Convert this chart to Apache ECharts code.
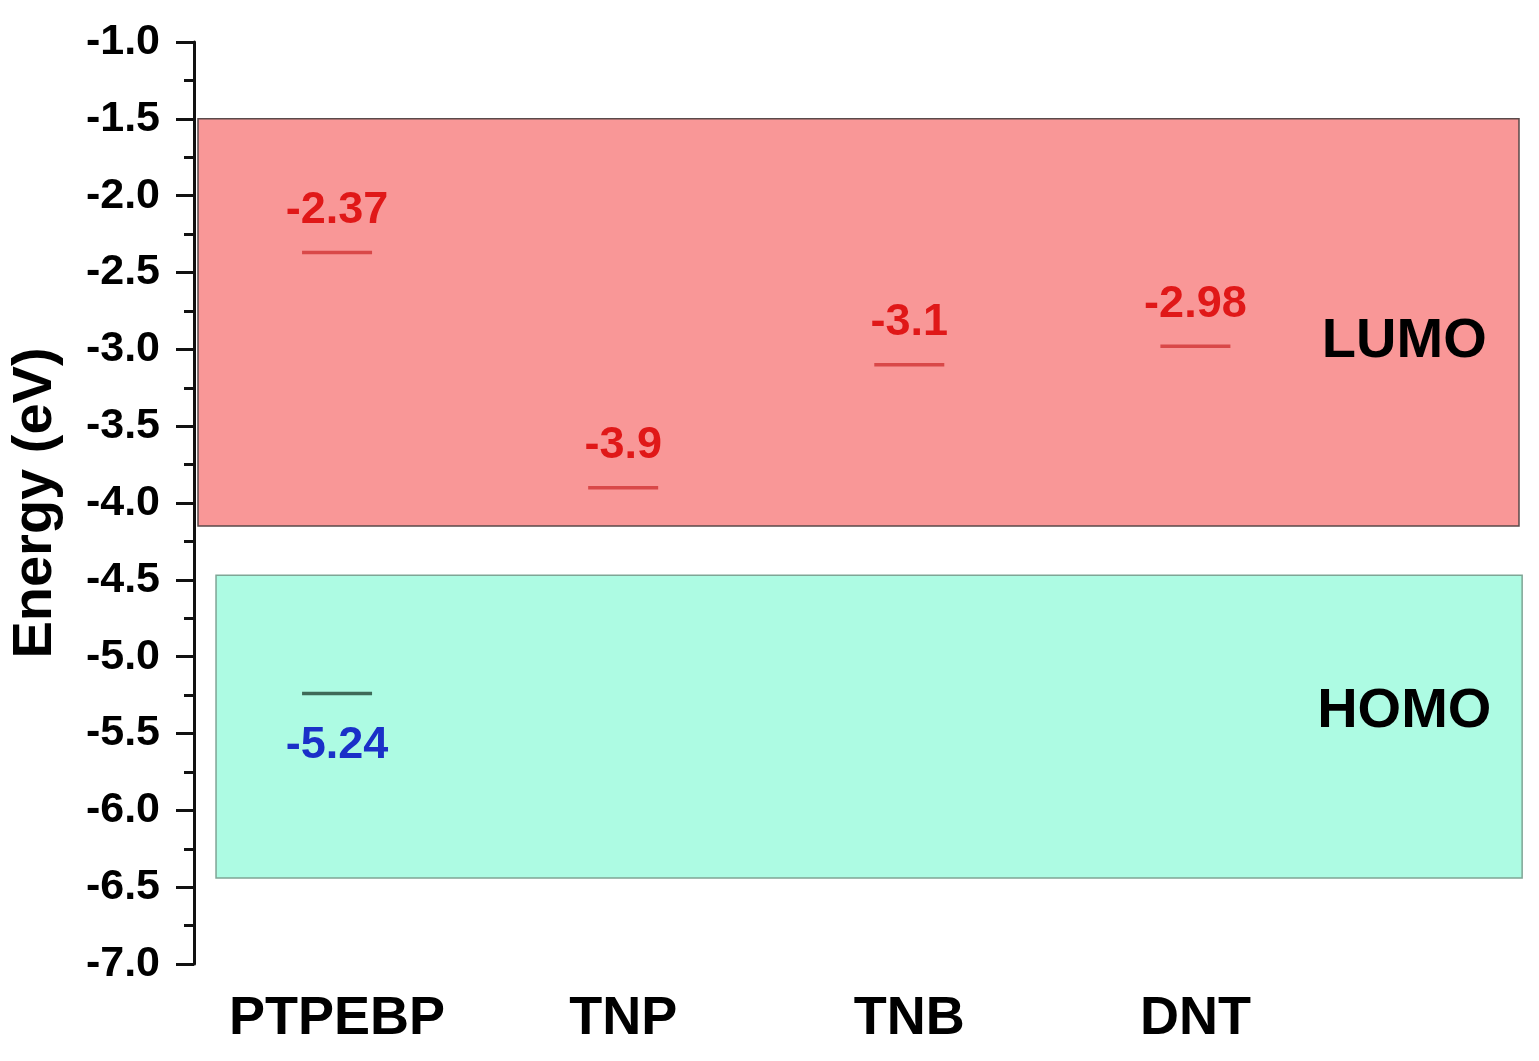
<!DOCTYPE html>
<html>
<head>
<meta charset="utf-8">
<script src="https://cdn.jsdelivr.net/npm/echarts@6/dist/echarts.min.js"></script>
<style>
html,body{margin:0;padding:0;background:#fff;}
#c{width:1539px;height:1061px;}
</style>
</head>
<body>
<div id="c"></div>
<script>
// ---- data ----
const categories = ['PTPEBP', 'TNP', 'TNB', 'DNT'];
const lumoValues = [-2.37, -3.9, -3.1, -2.98];
const homoValues = [-5.24, null, null, null];
const yTicks = [-7.0, -6.5, -6.0, -5.5, -5.0, -4.5, -4.0, -3.5, -3.0, -2.5, -2.0, -1.5, -1.0];
const lumoBand = [-1.5, -4.15];
const homoBand = [-4.47, -6.44];
const bandLabels = ['LUMO', 'HOMO'];
const bandLabelY = [-2.95, -5.36];

const FONT = '"Liberation Sans", Arial, sans-serif';
const chart = echarts.init(document.getElementById('c'));

const catX = categories.map((c, i) => i + 1);

function levelSeries(values, lineColor, textColor, above) {
  const data = [];
  values.forEach((v, i) => { if (v !== null) data.push([catX[i], v]); });
  return {
    type: 'custom',
    z: 5,
    data: data,
    renderItem: function (params, api) {
      const p = api.coord([api.value(0), api.value(1)]);
      const val = api.value(1);
      return {
        type: 'group',
        children: [
          { type: 'line', shape: { x1: p[0] - 35, y1: p[1], x2: p[0] + 35, y2: p[1] },
            style: { stroke: lineColor, lineWidth: 3.5 } },
          { type: 'text', x: p[0], y: above ? p[1] - 42 : p[1] + 52,
            style: { text: String(val), fill: textColor, font: 'bold 45px ' + FONT,
                     textAlign: 'center', textVerticalAlign: 'middle' } }
        ]
      };
    }
  };
}

const option = {
  backgroundColor: '#fff',
  animation: false,
  grid: { left: 193, top: 42, bottom: 97, right: 14, containLabel: false },
  xAxis: {
    type: 'value', min: 0.5, max: 5.152,
    axisLine: { show: false }, axisTick: { show: false }, splitLine: { show: false },
    axisLabel: {
      customValues: catX,
      formatter: v => categories[Math.round(v) - 1] || '',
      color: '#000', fontFamily: FONT, fontWeight: 'bold', fontSize: 54, margin: 28
    }
  },
  yAxis: {
    type: 'value', min: yTicks[0], max: yTicks[yTicks.length - 1], interval: 0.5,
    name: 'Energy (eV)', nameLocation: 'middle', nameRotate: 90, nameGap: 130,
    nameTextStyle: { color: '#000', fontFamily: FONT, fontWeight: 'bold', fontSize: 56 },
    axisLine: { show: true, lineStyle: { color: '#111', width: 3 } },
    axisTick: { show: true, length: 18, lineStyle: { color: '#111', width: 3 } },
    minorTick: { show: true, splitNumber: 2, length: 10, lineStyle: { color: '#111', width: 3 } },
    splitLine: { show: false },
    axisLabel: { formatter: v => v.toFixed(1), color: '#000', fontFamily: FONT,
                 fontWeight: 'bold', fontSize: 43, margin: 34 }
  },
  series: [
    {
      type: 'scatter', data: [], z: 1,
      markArea: {
        silent: true,
        data: [
          [{ coord: [0.514, lumoBand[0]], itemStyle: { color: '#f99797', borderColor: '#5a4a4a', borderWidth: 1.5 } },
           { coord: [5.131, lumoBand[1]] }],
          [{ coord: [0.577, homoBand[0]], itemStyle: { color: '#adfbe3', borderColor: '#7fa595', borderWidth: 1.5 } },
           { coord: [5.142, homoBand[1]] }]
        ]
      }
    },
    {
      type: 'custom', z: 6,
      data: bandLabels.map((t, i) => [4.73, bandLabelY[i], i]),
      renderItem: function (params, api) {
        const p = api.coord([api.value(0), api.value(1)]);
        return { type: 'text', x: p[0], y: p[1],
          style: { text: bandLabels[api.value(2)], fill: '#000', font: 'bold 56px ' + FONT,
                   textAlign: 'center', textVerticalAlign: 'middle' } };
      }
    },
    levelSeries(lumoValues, '#d94848', '#e01818', true),
    levelSeries(homoValues, '#3e6a58', '#1a30c8', false)
  ]
};
chart.setOption(option);
</script>
</body>
</html>
